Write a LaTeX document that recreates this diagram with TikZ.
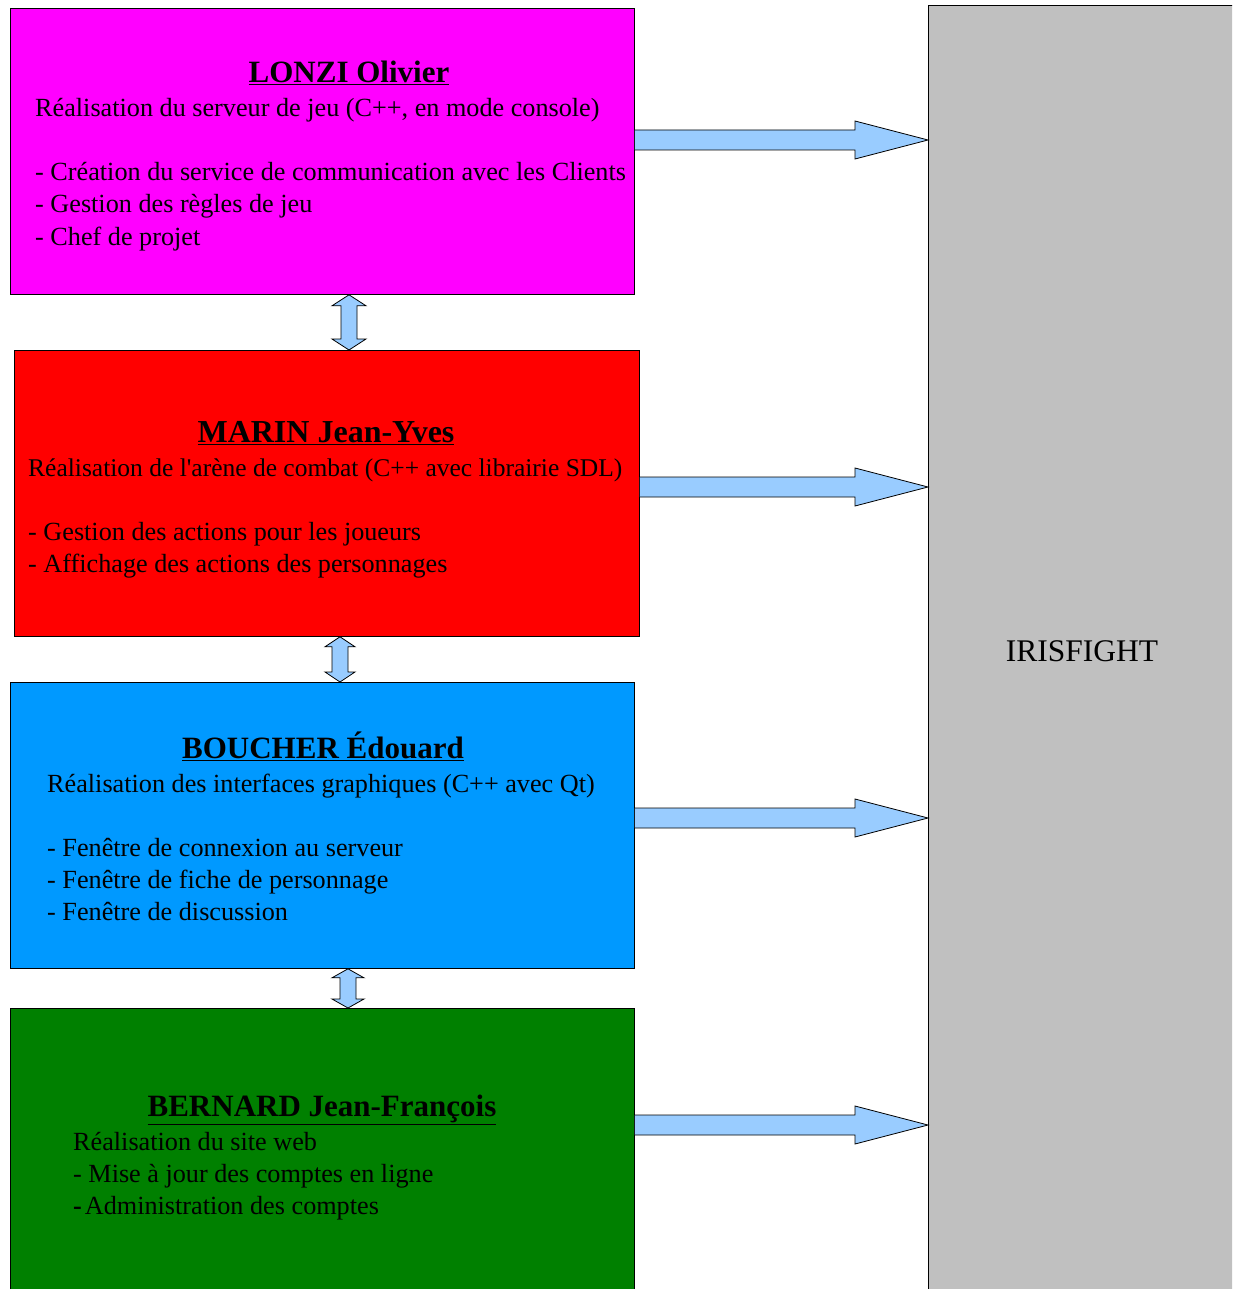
\documentclass[tikz,border=0pt]{standalone}
\usepackage{fontspec}
\setmainfont{Liberation Serif}
\usetikzlibrary{calc}
\definecolor{lonzicol}{HTML}{FF00FF}
\definecolor{marincol}{HTML}{FF0000}
\definecolor{bouchercol}{HTML}{0099FF}
\definecolor{bernardcol}{HTML}{008000}
\definecolor{projcol}{HTML}{C0C0C0}
\definecolor{arrowcol}{HTML}{99CCFF}
\tikzset{
  box/.style={draw=black, line width=0.8pt, anchor=north west, inner sep=0pt},
  blockarr/.style={draw=black, line width=0.8pt, fill=arrowcol, line join=miter},
  ttl/.style={anchor=base, inner sep=0pt, font=\fontsize{31}{36}\selectfont\bfseries},
  txt/.style={anchor=base west, inner sep=0pt, font=\fontsize{26.2}{32}\selectfont},
}
\begin{document}
\begin{tikzpicture}[x=1pt, y=-1pt]
\useasboundingbox (0,0) rectangle (1232,1289);
\clip (0,0) rectangle (1232,1289);

% project block
\node[box, fill=projcol, minimum width=320pt, minimum height=1300pt] (proj) at (928,5) {};
\node[anchor=base, inner sep=0pt, font=\fontsize{31.5}{36}\selectfont] (projname) at (1082,661) {IRISFIGHT};

% team members
\node[box, fill=lonzicol, minimum width=624pt, minimum height=286pt] (b1) at (10,8) {};
\node[box, fill=marincol, minimum width=625pt, minimum height=286pt] (b2) at (14,350) {};
\node[box, fill=bouchercol, minimum width=624pt, minimum height=286pt] (b3) at (10,682) {};
\node[box, fill=bernardcol, minimum width=624pt, minimum height=320pt] (b4) at (10,1008) {};

% LONZI
\node[ttl] (t1) at (349,83) {\underline{LONZI Olivier}};
\node[txt] (l1a) at (35,117) {Réalisation du serveur de jeu (C++, en mode console)};
\node[txt] (l1b) at (35,181) {- Création du service de communication avec les Clients};
\node[txt] (l1c) at (35,213) {- Gestion des règles de jeu};
\node[txt] (l1d) at (35,245) {- Chef de projet};

% MARIN
\node[ttl, font=\fontsize{32}{36}\selectfont\bfseries] (t2) at (326,442) {\underline{MARIN Jean-Yves}};
\node[txt, font=\fontsize{25.5}{32}\selectfont] (l2a) at (28,476) {Réalisation de l\textquotesingle arène de combat (C++ avec librairie SDL)};
\node[txt] (l2b) at (28,540) {- Gestion des actions pour les joueurs};
\node[txt] (l2c) at (28,572) {- Affichage des actions des personnages};

% BOUCHER
\node[ttl] (t3) at (323,758) {\underline{BOUCHER Édouard}};
\node[txt] (l3a) at (47,792) {Réalisation des interfaces graphiques (C++ avec Qt)};
\node[txt] (l3b) at (47,856) {- Fenêtre de connexion au serveur};
\node[txt] (l3c) at (47,888) {- Fenêtre de fiche de personnage};
\node[txt] (l3d) at (47,920) {- Fenêtre de discussion};

% BERNARD
\node[ttl] (t4) at (322,1116) {\underline{BERNARD Jean-François}};
\node[txt] (l4a) at (73,1150) {Réalisation du site web};
\node[txt] (l4b) at (73,1182) {- Mise à jour des comptes en ligne};
\node[txt] (l4c) at (73,1214) {{\bfseries -}\kern3pt Administration des comptes};

% arrow levels
\coordinate (r1) at (0,140);
\coordinate (r2) at (0,487);
\coordinate (r3) at (0,818);
\coordinate (r4) at (0,1125);

% block arrows towards the project
\foreach \src/\lvl in {b1/r1, b2/r2, b3/r3, b4/r4}{
  \draw[blockarr]
    ($(\src.east |- \lvl)+(0,-10)$) -- ($(proj.west |- \lvl)+(-73,-10)$)
    -- ($(proj.west |- \lvl)+(-73,-19)$) -- (proj.west |- \lvl)
    -- ($(proj.west |- \lvl)+(-73,19)$) -- ($(proj.west |- \lvl)+(-73,10)$)
    -- ($(\src.east |- \lvl)+(0,10)$);
}

% double block arrows between members
\coordinate (v1) at (349,0);
\coordinate (v2) at (340,0);
\coordinate (v3) at (348,0);
\foreach \a/\b/\c/\hw/\sw/\hh in {b1/b2/v1/17/8/11, b2/b3/v2/15/8/10, b3/b4/v3/16/8/9}{
  \draw[blockarr]
    (\c |- \a.south)
    -- ($(\c |- \a.south)+(\hw,\hh)$) -- ($(\c |- \a.south)+(\sw,\hh)$)
    -- ($(\c |- \b.north)+(\sw,-\hh)$) -- ($(\c |- \b.north)+(\hw,-\hh)$)
    -- (\c |- \b.north)
    -- ($(\c |- \b.north)+(-\hw,-\hh)$) -- ($(\c |- \b.north)+(-\sw,-\hh)$)
    -- ($(\c |- \a.south)+(-\sw,\hh)$) -- ($(\c |- \a.south)+(-\hw,\hh)$)
    -- cycle;
}
\end{tikzpicture}
\end{document}
